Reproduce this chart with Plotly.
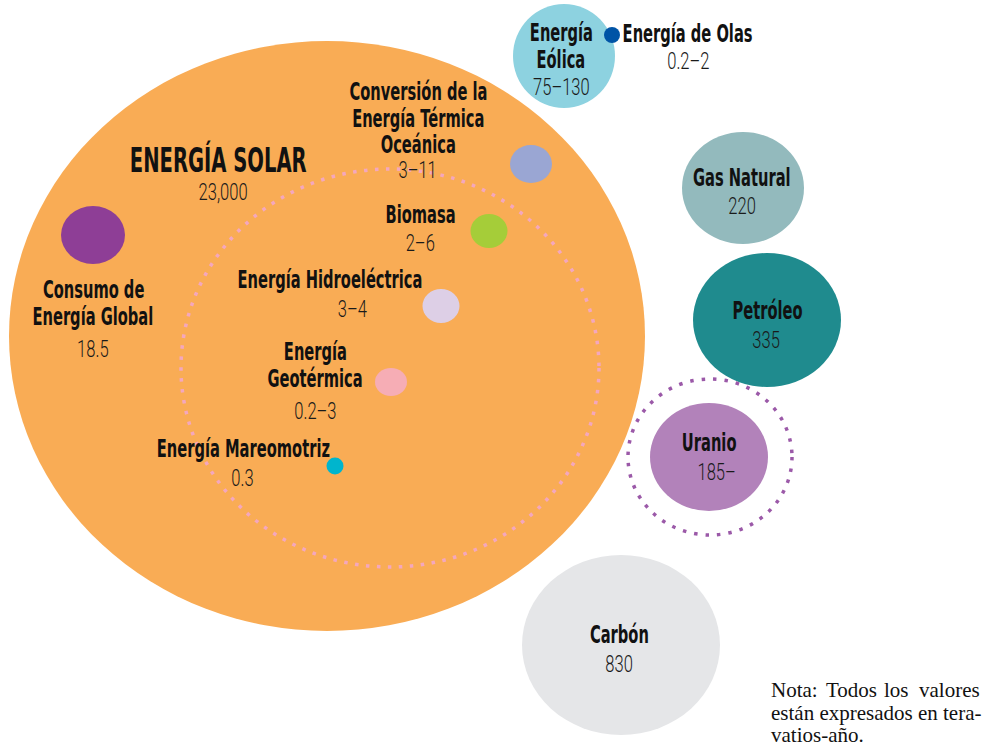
import json
import plotly.graph_objects as go

# ---- data ----
names = ["ENERGÍA SOLAR", "Consumo de|Energía Global", "Conversión de la|Energía Térmica|Oceánica",
         "Biomasa", "Energía Hidroeléctrica", "Energía|Geotérmica", "Energía Mareomotriz",
         "Energía|Eólica", "Energía de Olas", "Gas Natural", "Petróleo", "Uranio", "Carbón"]
values = ["23,000", "18.5", "3–11", "2–6", "3–4", "0.2–3", "0.3",
          "75–130", "0.2–2", "220", "335", "185–", "830"]
note_words = [["Nota:", "Todos", "los", "valores"], ["están expresados en tera-"], ["vatios-año."]]

# ---- layout (pixel space of the page) ----
colors = ["#F9AC55", "#8E3E96", "#9AA6D3", "#A5CD39", "#DDCFE6", "#F6ADB5", "#00B5CD",
          "#8DD2E0", "#0054A6", "#93BABD", "#1F8B8E", "#B282BA", "#E5E6E8"]
cx = [327, 93, 531, 489, 441, 391, 335, 564, 612, 743, 767, 709, 621]
cy = [336, 235, 164, 231, 306, 382, 466, 56, 35, 188, 320, 457, 645]
rx = [318, 32, 21, 18.5, 18.5, 16, 8.5, 51, 8, 61, 74, 59, 99]
ry = [295, 29, 19, 17, 17, 14, 8.5, 52, 8, 56, 67, 54, 90]

# x centre and y of first line of each label, line spacing
label_x = [218, 93, 418, 420, 330, 315, 243, 561, 687, 742, 767, 709, 619]
label_y = [160, 290, 92, 215, 280, 352, 449, 33, 34, 178, 311, 443, 635]
line_gap = 26.5
value_xy = [(223, 192), (93, 349), (417, 170), (420, 243), (352, 309), (315, 411), (242, 478),
            (561, 87), (688, 61), (742, 206), (766, 340), (716, 472), (619, 664)]
# note word placement: (x, anchor) per word, one row per line
note_pos = [[(770, "left"), (851, "center"), (896, "center"), (981, "right")], [(770, "left")], [(770, "left")]]
note_y = [690, 713, 735]

BOLD = "DejaVu Sans Condensed, DejaVu Sans, sans-serif"
LIGHT = "Roboto, DejaVu Sans Condensed, sans-serif"
SERIF = "Liberation Serif, DejaVu Serif, serif"

shapes = []
for i in range(len(names)):
    shapes.append(dict(type="circle", xref="x", yref="y",
                       x0=cx[i] - rx[i], x1=cx[i] + rx[i], y0=cy[i] - ry[i], y1=cy[i] + ry[i],
                       fillcolor=colors[i], line=dict(width=0), layer="below"))
# dotted rings
shapes.append(dict(type="circle", xref="x", yref="y", x0=390 - 209, x1=390 + 209, y0=368 - 199, y1=368 + 199,
                   line=dict(color="#F4A7BE", width=3.5, dash="3.5px,7.5px"), fillcolor="rgba(0,0,0,0)"))
shapes.append(dict(type="circle", xref="x", yref="y", x0=710 - 82, x1=710 + 82, y0=457 - 78, y1=457 + 78,
                   line=dict(color="#9B59A8", width=3.5, dash="3.5px,8px"), fillcolor="rgba(0,0,0,0)"))

annotations = []
scales = []
for i, n in enumerate(names):
    size = 34 if i == 0 else 24
    for k, line in enumerate(n.split("|")):
        annotations.append(dict(x=label_x[i], y=label_y[i] + k * line_gap, xref="x", yref="y",
                                text="<b>%s</b>" % line, showarrow=False,
                                font=dict(family=BOLD, size=size, color="#111111"),
                                xanchor="center", yanchor="middle"))
        scales.append(0.64 if i == 0 else 0.68)
    annotations.append(dict(x=value_xy[i][0], y=value_xy[i][1], xref="x", yref="y", text=values[i],
                            showarrow=False, font=dict(family=LIGHT, size=23, color="#1a1a1a", weight=300),
                            xanchor="center", yanchor="middle"))
    scales.append(0.72)
for k, words in enumerate(note_words):
    for w, (px, anc) in zip(words, note_pos[k]):
        annotations.append(dict(x=px, y=note_y[k], xref="x", yref="y", text=w, showarrow=False,
                                font=dict(family=SERIF, size=21, color="#111111"),
                                xanchor=anc, yanchor="middle", borderpad=0))
        scales.append(1)

fig = go.Figure()
fig.add_trace(go.Scatter(x=[0, 985], y=[0, 748], mode="markers", marker=dict(opacity=0), hoverinfo="skip",
                         showlegend=False))
fig.update_layout(width=985, height=748, margin=dict(l=0, r=0, t=0, b=0),
                  paper_bgcolor="white", plot_bgcolor="white",
                  xaxis=dict(range=[0, 985], visible=False, fixedrange=True),
                  yaxis=dict(range=[748, 0], visible=False, fixedrange=True),
                  shapes=shapes, annotations=annotations, showlegend=False)

post = (
    "document.body.style.margin='0';"
    "var gd=document.getElementById('{plot_id}');"
    "var sc=" + json.dumps(scales) + ";"
    "gd.querySelectorAll('g.annotation').forEach(function(g){"
    "var i=parseInt(g.getAttribute('data-index'));var s=sc[i];"
    "if(!s||s===1)return;"
    "var t=g.querySelector('text.annotation-text');if(!t)return;"
    "var bb=t.getBBox();var c=bb.x+bb.width/2;"
    "var old=t.getAttribute('transform')||'';"
    "t.setAttribute('transform',old+' translate('+c+',0) scale('+s+',1) translate('+(-c)+',0)');"
    "});"
)
fig.write_html("out.html", post_script=post, config={"displayModeBar": False})
